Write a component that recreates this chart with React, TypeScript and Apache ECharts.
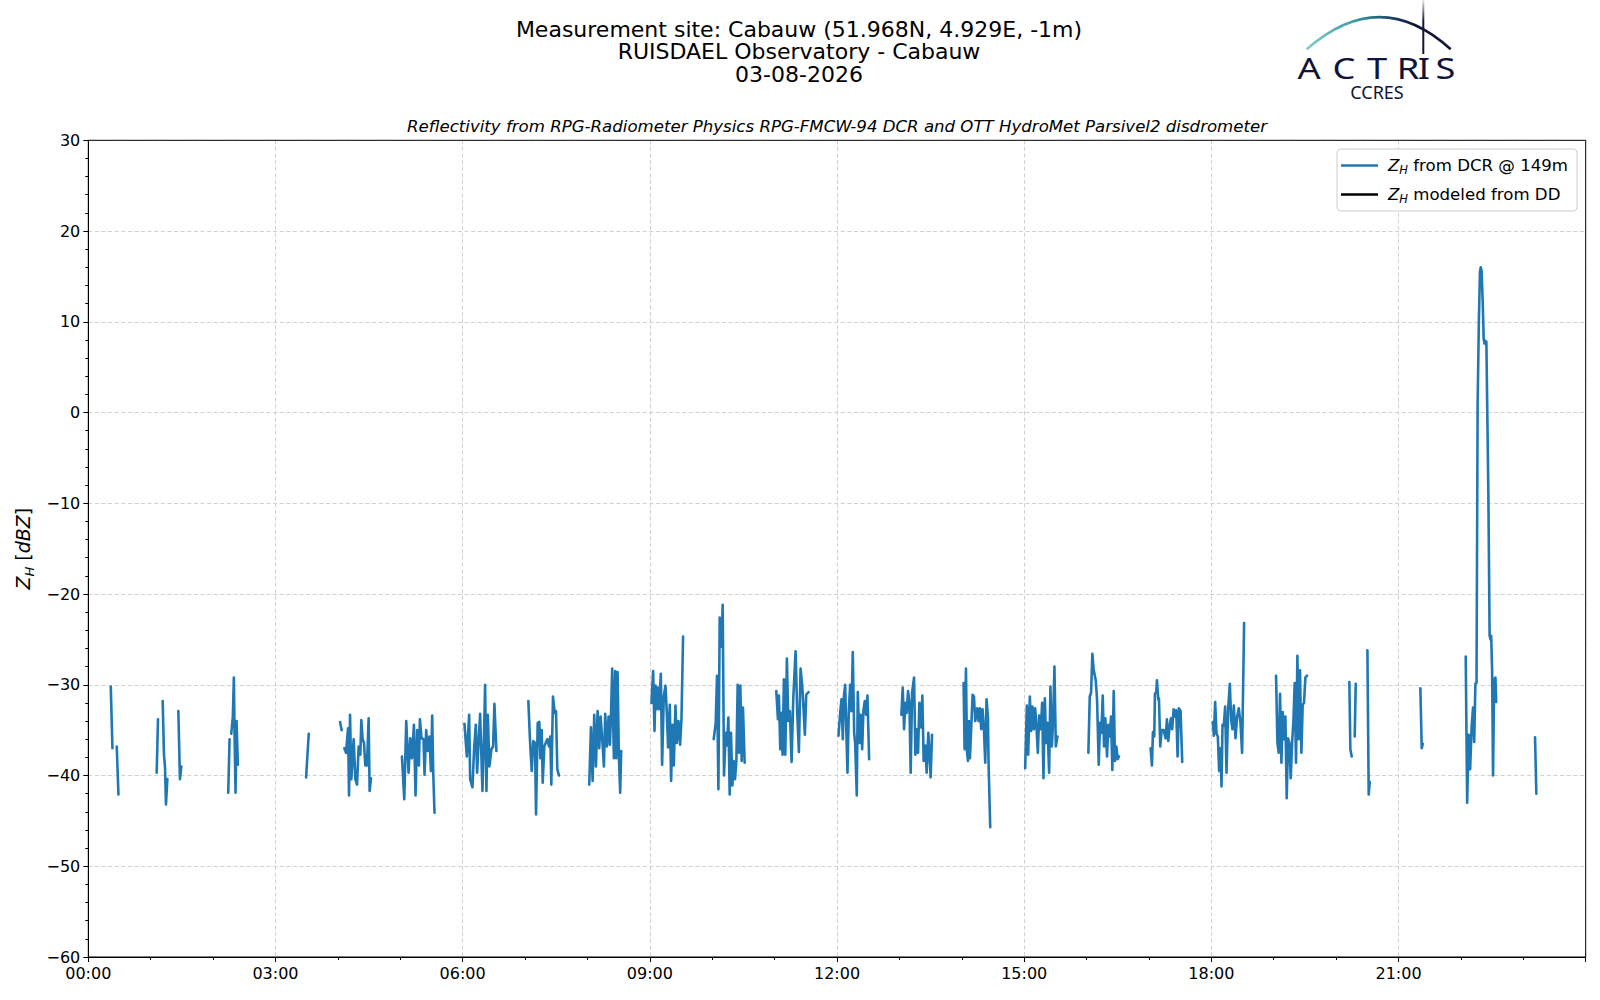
import React, { useEffect, useRef } from "react";
import * as echarts from "echarts";

// time in decimal hours (UTC), reflectivity in dBZ
const seg0021 = [[0.36, -30.2], [0.387, -37.0]];
const seg0027 = [[0.456, -36.8], [0.483, -42.1]];
const seg0106 = [[1.096, -39.7], [1.117, -33.8]];
const seg0111 = [[1.192, -31.8], [1.213, -37.7], [1.229, -39.0], [1.245, -43.2], [1.267, -40.4]];
const seg0127 = [[1.443, -32.9], [1.469, -40.4], [1.491, -39.0]];
const seg0215 = [[2.243, -41.9], [2.264, -36.0]];
const seg0217 = [[2.291, -35.4], [2.317, -33.5], [2.333, -29.2], [2.344, -35.3], [2.36, -41.9], [2.376, -34.0], [2.397, -38.8]];
const seg0329 = [[3.491, -40.2], [3.533, -35.4]];
const seg0402 = [[4.035, -34.1], [4.061, -35.0]];
const seg0406 = [[4.104, -37.0], [4.131, -37.5], [4.163, -34.8], [4.179, -42.2], [4.195, -33.3], [4.216, -40.4], [4.253, -36.0], [4.28, -40.4], [4.307, -41.0], [4.333, -36.8], [4.36, -37.7], [4.376, -33.9], [4.397, -36.0], [4.419, -36.4], [4.44, -38.9], [4.467, -38.9], [4.493, -33.7], [4.509, -41.7], [4.531, -40.3]];
const seg0501 = [[5.027, -37.9], [5.064, -42.6], [5.096, -34.0], [5.133, -39.7], [5.16, -35.9], [5.187, -38.1], [5.219, -34.4], [5.245, -42.2], [5.272, -35.0], [5.299, -38.9], [5.315, -33.8], [5.341, -35.9], [5.373, -36.0], [5.389, -39.9], [5.416, -35.0], [5.443, -37.3], [5.469, -35.7], [5.491, -39.5], [5.512, -33.4], [5.528, -39.6], [5.549, -44.1]];
const seg0601 = [[6.029, -34.3], [6.067, -37.9], [6.104, -33.3], [6.12, -40.4], [6.157, -41.3], [6.184, -37.0], [6.211, -34.4], [6.232, -39.7], [6.253, -36.6], [6.28, -33.2], [6.296, -36.8], [6.317, -41.7], [6.344, -35.1], [6.36, -30.0], [6.381, -41.7], [6.403, -33.3], [6.429, -39.0], [6.461, -37.1], [6.488, -36.8], [6.509, -32.1], [6.541, -37.3]];
const seg0703 = [[7.053, -31.8], [7.08, -36.2], [7.107, -39.5], [7.133, -36.2], [7.16, -36.4], [7.176, -44.3], [7.203, -34.2], [7.229, -34.1], [7.245, -38.1], [7.267, -35.0], [7.283, -40.8], [7.309, -36.8], [7.331, -36.4], [7.357, -36.0], [7.384, -36.8], [7.405, -35.7], [7.421, -41.0], [7.448, -31.3], [7.475, -33.1], [7.496, -32.9], [7.517, -39.3], [7.544, -40.0]];
const seg0801 = [[8.029, -41.0], [8.056, -34.7], [8.083, -40.6], [8.109, -33.3], [8.136, -39.0], [8.163, -32.9], [8.189, -37.0], [8.211, -33.5], [8.243, -36.6], [8.264, -39.0], [8.285, -33.2], [8.312, -36.8], [8.339, -33.5], [8.36, -36.6], [8.376, -33.7], [8.397, -28.2], [8.424, -38.1], [8.445, -28.5], [8.461, -38.1], [8.483, -28.6], [8.504, -37.9], [8.525, -41.9], [8.541, -37.3]];
const seg0901 = [[9.027, -32.0], [9.053, -28.5], [9.075, -35.1], [9.091, -30.1], [9.107, -32.7], [9.128, -30.3], [9.149, -32.7], [9.176, -28.8], [9.197, -38.8], [9.224, -31.2], [9.251, -30.1], [9.272, -33.1], [9.293, -36.9], [9.32, -32.2], [9.341, -40.6], [9.363, -34.4], [9.384, -38.9], [9.411, -32.3], [9.432, -36.4], [9.459, -34.0], [9.485, -36.6], [9.507, -33.8], [9.533, -24.7]];
const seg1001 = [[10.024, -36.0], [10.056, -34.2], [10.077, -29.0], [10.099, -41.5], [10.12, -22.6], [10.147, -25.8], [10.168, -21.2], [10.189, -40.0], [10.216, -35.3], [10.237, -36.7], [10.259, -33.6], [10.28, -42.1], [10.301, -35.3], [10.323, -41.1], [10.344, -38.4], [10.365, -40.4], [10.387, -38.4], [10.408, -30.0], [10.429, -37.5], [10.451, -30.1], [10.472, -38.4], [10.493, -32.5], [10.52, -38.6]];
const seg1101 = [[11.027, -30.7], [11.053, -33.8], [11.069, -31.2], [11.091, -37.1], [11.112, -33.1], [11.128, -37.7], [11.149, -29.4], [11.171, -37.7], [11.197, -27.1], [11.219, -34.0], [11.245, -32.9], [11.272, -38.5], [11.299, -31.5], [11.336, -26.3], [11.363, -33.1], [11.389, -37.4], [11.416, -28.2], [11.443, -30.1], [11.464, -32.7], [11.485, -35.5], [11.507, -31.1], [11.544, -30.8]];
const seg1201 = [[12.024, -35.6], [12.051, -33.1], [12.072, -31.6], [12.093, -36.0], [12.109, -31.4], [12.131, -30.0], [12.147, -34.5], [12.168, -39.7], [12.189, -32.9], [12.211, -30.0], [12.232, -32.9], [12.253, -26.4], [12.275, -35.3], [12.291, -36.4], [12.317, -42.2], [12.333, -30.8], [12.36, -36.4], [12.381, -33.3], [12.403, -37.1], [12.424, -32.8], [12.445, -31.8], [12.467, -33.3], [12.488, -31.2], [12.515, -38.2]];
const seg1302 = [[13.032, -33.3], [13.053, -30.3], [13.075, -34.9], [13.096, -32.0], [13.117, -33.1], [13.139, -30.7], [13.16, -32.0], [13.181, -39.7], [13.203, -30.9], [13.235, -29.2], [13.256, -37.7], [13.277, -34.9], [13.299, -37.5], [13.32, -32.0], [13.347, -34.7], [13.368, -31.2], [13.389, -38.4], [13.416, -36.7], [13.437, -39.7], [13.464, -35.3], [13.48, -37.3], [13.501, -40.2], [13.523, -35.5]];
const seg1402 = [[14.029, -29.8], [14.045, -37.1], [14.067, -28.2], [14.083, -37.3], [14.099, -38.4], [14.115, -34.0], [14.131, -38.1], [14.173, -31.1], [14.195, -31.3], [14.216, -34.0], [14.248, -32.6], [14.269, -34.0], [14.291, -32.6], [14.312, -34.9], [14.333, -32.7], [14.355, -34.9], [14.376, -38.6], [14.397, -31.6], [14.419, -33.5], [14.429, -38.6], [14.456, -45.7]];
const seg1501 = [[15.016, -39.2], [15.043, -32.3], [15.064, -37.7], [15.091, -31.3], [15.112, -35.1], [15.133, -32.4], [15.155, -34.9], [15.176, -32.6], [15.197, -34.6], [15.219, -37.5], [15.24, -33.4], [15.267, -34.9], [15.288, -32.0], [15.309, -40.3], [15.331, -31.5], [15.352, -36.4], [15.373, -34.2], [15.4, -39.7], [15.421, -30.2], [15.443, -36.8], [15.464, -34.0], [15.485, -28.0], [15.507, -36.8], [15.533, -35.7]];
const seg1602 = [[16.029, -37.5], [16.051, -31.3], [16.072, -30.9], [16.093, -26.6], [16.115, -28.4], [16.147, -29.5], [16.168, -31.6], [16.195, -38.8], [16.216, -34.2], [16.237, -35.3], [16.259, -31.2], [16.28, -36.8], [16.301, -33.7], [16.328, -37.9], [16.349, -34.4], [16.371, -35.7], [16.392, -33.5], [16.413, -39.4], [16.435, -30.7], [16.456, -38.4], [16.477, -36.8], [16.499, -38.2], [16.52, -37.9]];
const seg1702 = [[17.027, -37.0], [17.048, -38.9], [17.064, -35.2], [17.085, -35.7], [17.096, -31.0], [17.117, -30.8], [17.128, -29.5], [17.149, -31.6], [17.16, -31.5], [17.181, -36.8], [17.203, -35.0], [17.235, -35.0], [17.267, -35.9], [17.288, -33.8], [17.309, -36.2], [17.331, -34.6], [17.352, -33.7], [17.373, -34.9], [17.395, -32.7], [17.416, -33.5], [17.437, -32.8], [17.459, -37.9], [17.48, -32.6], [17.507, -32.9], [17.533, -38.5]];
const seg1801 = [[18.024, -34.1], [18.04, -35.6], [18.061, -31.9], [18.083, -35.4], [18.104, -35.7], [18.125, -39.5], [18.147, -37.0], [18.163, -41.2], [18.179, -34.4], [18.2, -34.5], [18.221, -32.4], [18.243, -39.7], [18.269, -32.7], [18.296, -29.9], [18.317, -33.8], [18.339, -34.9], [18.36, -32.3], [18.387, -35.9], [18.413, -33.5], [18.44, -32.6], [18.467, -34.2], [18.493, -37.5], [18.525, -23.2]];
const seg1902 = [[19.037, -29.0], [19.059, -36.4], [19.08, -37.5], [19.101, -31.0], [19.123, -38.6], [19.144, -33.0], [19.165, -36.0], [19.187, -33.5], [19.208, -42.5], [19.229, -35.9], [19.251, -36.4], [19.272, -40.3], [19.293, -36.6], [19.315, -34.0], [19.336, -29.8], [19.357, -38.6], [19.379, -26.8], [19.4, -36.0], [19.421, -28.4], [19.443, -37.5], [19.464, -32.2], [19.485, -32.0], [19.507, -29.2], [19.533, -29.0]];
const seg2013 = [[20.212, -29.7], [20.228, -37.1], [20.25, -37.9]];
const seg2018 = [[20.298, -35.7], [20.314, -29.9]];
const seg2030 = [[20.501, -26.2], [20.522, -42.1], [20.538, -40.7]];
const seg2121 = [[21.35, -30.4], [21.372, -37.0], [21.388, -36.5]];
const seg2205 = [[22.077, -26.9], [22.1, -43.0], [22.125, -35.5], [22.148, -39.3], [22.172, -34.6], [22.195, -32.5], [22.213, -36.3], [22.232, -29.9], [22.25, -29.8], [22.268, 1.0], [22.288, 10.2], [22.305, 15.5], [22.318, 16.0], [22.332, 15.6], [22.35, 12.0], [22.365, 8.1], [22.378, 7.6], [22.392, 7.9], [22.408, 7.8], [22.44, -9.0], [22.46, -24.6], [22.475, -25.0], [22.485, -24.6], [22.5, -28.4], [22.515, -40.0], [22.533, -29.4], [22.553, -29.2], [22.565, -31.9]];
const seg2311 = [[23.188, -35.8], [23.209, -42.0]];

const dcrSegments = [
  seg0021, seg0027, seg0106, seg0111, seg0127, seg0215, seg0217, seg0329, seg0402, seg0406,
  seg0501, seg0601, seg0703, seg0801, seg0901, seg1001, seg1101, seg1201, seg1302, seg1402,
  seg1501, seg1602, seg1702, seg1801, seg1902, seg2013, seg2018, seg2030, seg2121, seg2205, seg2311,
];
const ddModeled: number[][] = [];

const hourLabels = ["00:00", "03:00", "06:00", "09:00", "12:00", "15:00", "18:00", "21:00"];
const yTicks = [-60, -50, -40, -30, -20, -10, 0, 10, 20, 30];

const titleLines = [
  "Measurement site: Cabauw (51.968N, 4.929E, -1m)",
  "RUISDAEL Observatory - Cabauw",
  "03-08-2026",
];
const subTitle = "Reflectivity from RPG-Radiometer Physics RPG-FMCW-94 DCR and OTT HydroMet Parsivel2 disdrometer";
const seriesNames = ["Z_H from DCR @ 149m", "Z_H modeled from DD"];
const legendRich = ["{i|Z}{s|H} from DCR @ 149m", "{i|Z}{s|H} modeled from DD"];
const logoLetters = ["A", "C", "T", "R", "I", "S"];

const FONT = "DejaVu Sans";
const NAVY = "#11143a";

function buildLine(segs: number[][][]) {
  const out: any[] = [];
  segs.forEach((seg, i) => {
    if (i > 0) out.push([seg[0][0] - 0.001, "-"]);
    seg.forEach((p) => out.push(p));
  });
  return out;
}

export default function App() {
  const ref = useRef<HTMLDivElement>(null);
  useEffect(() => {
    if (!ref.current) return;
    const chart = echarts.init(ref.current, null, { renderer: "svg" });
    const letterX = [1309, 1344, 1377, 1408, 1424, 1445.5];
    const arcGrad = new echarts.graphic.LinearGradient(0, 0, 1, 0, [
      { offset: 0, color: "#7fcfc9" },
      { offset: 0.35, color: "#3a98a2" },
      { offset: 0.6, color: "#1d3f63" },
      { offset: 0.75, color: NAVY },
      { offset: 1, color: NAVY },
    ]);
    const vGrad = new echarts.graphic.LinearGradient(0, 0, 0, 1, [
      { offset: 0, color: "rgba(17,20,58,0.1)" },
      { offset: 0.4, color: NAVY },
      { offset: 1, color: NAVY },
    ]);
    const richSub = {
      i: { fontStyle: "italic", fontFamily: FONT, fontSize: 16.6, color: "#000", lineHeight: 21 },
      s: { fontStyle: "italic", fontFamily: FONT, fontSize: 11.5, color: "#000", verticalAlign: "bottom", lineHeight: 21 },
    };
    const plot = { x: 88.3, y: 140.3, w: 1497.4, h: 816.7 };
    const option: any = {
      animation: false,
      backgroundColor: "#ffffff",
      textStyle: { fontFamily: FONT },
      grid: {
        left: plot.x,
        top: plot.y,
        width: plot.w,
        height: plot.h,
        show: false,
      },
      legend: {
        show: true,
        orient: "vertical",
        left: 1337,
        top: 149,
        padding: [6, 9, 6, 4],
        itemGap: 8,
        itemWidth: 37,
        itemHeight: 2.6,
        icon: "rect",
        backgroundColor: "#fff",
        borderColor: "#cccccc",
        borderWidth: 1,
        borderRadius: 4,
        data: seriesNames,
        formatter: (name: string) => legendRich[seriesNames.indexOf(name)],
        textStyle: {
          fontFamily: FONT,
          fontSize: 16.6,
          color: "#000",
          lineHeight: 21,
          padding: [0, 0, 0, 5],
          rich: richSub,
        },
      },
      xAxis: {
        type: "value",
        min: 0,
        max: 24,
        interval: 3,
        axisLine: { show: true, onZero: false, lineStyle: { color: "#000", width: 1 } },
        axisTick: { show: true, length: 5, lineStyle: { color: "#000", width: 1 } },
        minorTick: { show: true, splitNumber: 3, length: 3, lineStyle: { color: "#000", width: 1 } },
        splitLine: { show: true, lineStyle: { color: "#d0d0d0", width: 1, type: [4, 2.6] } },
        axisLabel: {
          show: true,
          margin: 8,
          color: "#000",
          fontFamily: FONT,
          fontSize: 16,
          showMinLabel: true,
          showMaxLabel: true,
          formatter: (v: number) => (v >= 24 ? "" : hourLabels[Math.round(v / 3)]),
        },
      },
      yAxis: {
        type: "value",
        min: -60,
        max: 30,
        interval: 10,
        axisLine: { show: true, onZero: false, lineStyle: { color: "#000", width: 1 } },
        axisTick: { show: true, length: 5, lineStyle: { color: "#000", width: 1 } },
        minorTick: { show: true, splitNumber: 5, length: 3, lineStyle: { color: "#000", width: 1 } },
        splitLine: { show: true, lineStyle: { color: "#d0d0d0", width: 1, type: [4, 2.6] } },
        axisLabel: {
          show: true,
          margin: 8,
          color: "#000",
          fontFamily: FONT,
          fontSize: 16,
          showMinLabel: true,
          showMaxLabel: true,
          formatter: (v: number) => {
            const t = yTicks.find((k) => Math.abs(k - v) < 1e-6);
            const val = t === undefined ? v : t;
            return val < 0 ? "\u2212" + Math.abs(val) : String(val);
          },
        },
      },
      series: [
        {
          name: seriesNames[0],
          type: "line",
          data: buildLine(dcrSegments),
          showSymbol: false,
          symbol: "none",
          connectNulls: false,
          color: "#1f77b4",
          lineStyle: { color: "#1f77b4", width: 2.6, join: "round", cap: "round" },
          z: 3,
        },
        {
          name: seriesNames[1],
          type: "line",
          data: ddModeled,
          showSymbol: false,
          symbol: "none",
          color: "#000000",
          lineStyle: { color: "#000000", width: 2.6 },
        },
      ],
      graphic: [
        {
          type: "rect",
          silent: true,
          z: 50,
          shape: { x: plot.x, y: plot.y, width: plot.w, height: plot.h },
          style: { fill: "none", stroke: "#000", lineWidth: 1 },
        },
        ...titleLines.map((t, i) => ({
          type: "text",
          x: 799,
          y: 29 + i * 22.8,
          style: {
            text: t,
            fontFamily: FONT,
            fontSize: 22,
            lineHeight: 22,
            fill: "#000",
            align: "center",
            verticalAlign: "middle",
          },
        })),
        {
          type: "text",
          x: 837,
          y: 126,
          style: {
            text: subTitle,
            fontFamily: FONT,
            fontStyle: "italic",
            fontSize: 16.6,
            fill: "#000",
            align: "center",
            verticalAlign: "middle",
          },
        },
        {
          type: "text",
          x: 23,
          y: 548.6,
          rotation: Math.PI / 2,
          style: {
            text: "{i|Z}{s|H} [{i|dBZ}]",
            fontFamily: FONT,
            fontSize: 19,
            fill: "#000",
            align: "center",
            verticalAlign: "middle",
            rich: {
              i: { fontStyle: "italic", fontFamily: FONT, fontSize: 19, fill: "#000", lineHeight: 25 },
              s: { fontStyle: "italic", fontFamily: FONT, fontSize: 13, fill: "#000", verticalAlign: "bottom", lineHeight: 25 },
            },
          },
        },
        // logo
        {
          type: "bezierCurve",
          shape: { x1: 1306.7, y1: 49.3, x2: 1450.7, y2: 49.3, cpx1: 1380, cpy1: -15 },
          style: { stroke: arcGrad, lineWidth: 2.6, fill: "none" },
        },
        {
          type: "rect",
          shape: { x: 1422.3, y: 0, width: 2, height: 54 },
          style: { fill: vGrad },
        },
        ...logoLetters.map((t, i) => ({
          type: "text",
          x: letterX[i],
          y: 68,
          scaleX: 1.25,
          style: {
            text: t,
            fontFamily: "Noto Sans",
            fontSize: 29,
            lineHeight: 22,
            fill: NAVY,
            align: "center",
            verticalAlign: "middle",
          },
        })),
        {
          type: "text",
          x: 1377,
          y: 92,
          style: {
            text: "CCRES",
            fontFamily: "Noto Sans",
            fontSize: 18,
            lineHeight: 14,
            fill: NAVY,
            align: "center",
            verticalAlign: "middle",
          },
        },
      ],
    };
    chart.setOption(option);
    return () => chart.dispose();
  }, []);
  return (
    <div
      ref={ref}
      style={{ position: "absolute", left: 0, top: 0, width: 1600, height: 1000, background: "#fff" }}
    />
  );
}
